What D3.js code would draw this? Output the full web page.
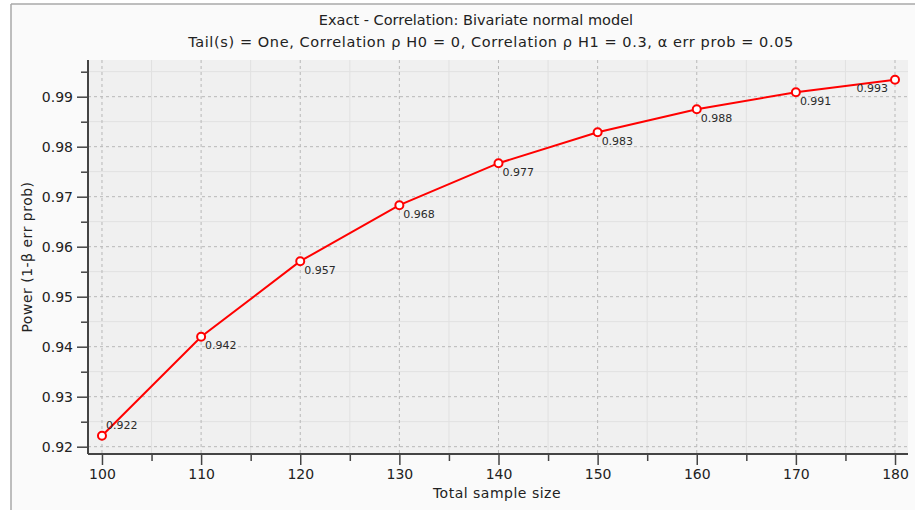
<!DOCTYPE html>
<html>
<head>
<meta charset="utf-8">
<script src="https://cdn.jsdelivr.net/npm/d3@7"></script>
<style>
  html, body { margin: 0; padding: 0; background: #ffffff; }
  svg { display: block; }
  text { font-family: "DejaVu Sans", sans-serif; }
</style>
</head>
<body>
<svg id="chart" width="915" height="510"></svg>
<script>
// ---- data ----
const sampleSizes = [100, 110, 120, 130, 140, 150, 160, 170, 180];
const powerValues = [0.9222, 0.9420, 0.9571, 0.9683, 0.9767, 0.9829, 0.9875, 0.9909, 0.9934];
const pointLabels = ["0.922", "0.942", "0.957", "0.968", "0.977", "0.983", "0.988", "0.991", "0.993"];
const xMajorTicks = [100, 110, 120, 130, 140, 150, 160, 170, 180];
const xMinorTicks = [105, 115, 125, 135, 145, 155, 165, 175];
const yMajorTicks = [0.92, 0.93, 0.94, 0.95, 0.96, 0.97, 0.98, 0.99];
const yMinorTicks = [0.925, 0.935, 0.945, 0.955, 0.965, 0.975, 0.985, 0.995];
const titleText = "Exact - Correlation: Bivariate normal model";
const subtitleText = "Tail(s) = One, Correlation \u03C1 H0 = 0, Correlation \u03C1 H1 = 0.3, \u03B1 err prob = 0.05";
const xTitle = "Total sample size";
const yTitle = "Power (1-\u03B2 err prob)";

// ---- layout ----
const W = 915, H = 510;
const plot = { left: 88, right: 908, top: 60, bottom: 454 };

const svg = d3.select("#chart");

// outer panel
svg.append("rect").attr("x", 0).attr("y", 0).attr("width", W).attr("height", H).attr("fill", "#ffffff");
svg.append("rect").attr("x", 11).attr("y", 4).attr("width", W).attr("height", H)
  .attr("fill", "#fafafa");
svg.append("line").attr("x1", 11).attr("x2", 11).attr("y1", 4).attr("y2", H)
  .attr("stroke", "#a8a8a8").attr("stroke-width", 1.5);
svg.append("line").attr("x1", 11).attr("x2", W).attr("y1", 4).attr("y2", 4)
  .attr("stroke", "#a8a8a8").attr("stroke-width", 1.5);

const x = d3.scaleLinear().domain([98.59, 181.31]).range([plot.left, plot.right]);
const y = d3.scaleLinear().domain([0.91854, 0.99734]).range([plot.bottom, plot.top]);

// plot background
svg.append("rect")
  .attr("x", plot.left).attr("y", plot.top)
  .attr("width", plot.right - plot.left).attr("height", plot.bottom - plot.top)
  .attr("fill", "#f0f0f0");

// minor grid
const grid = svg.append("g");
grid.selectAll(".vmin").data(xMinorTicks).join("line")
  .attr("x1", d => x(d)).attr("x2", d => x(d))
  .attr("y1", plot.top).attr("y2", plot.bottom)
  .attr("stroke", "#e1e1e1").attr("stroke-width", 1);
grid.selectAll(".hmin").data(yMinorTicks).join("line")
  .attr("y1", d => y(d)).attr("y2", d => y(d))
  .attr("x1", plot.left).attr("x2", plot.right)
  .attr("stroke", "#e1e1e1").attr("stroke-width", 1);
// major grid (dashed)
grid.selectAll(".vmaj").data(xMajorTicks).join("line")
  .attr("x1", d => x(d)).attr("x2", d => x(d))
  .attr("y1", plot.top).attr("y2", plot.bottom)
  .attr("stroke", "#b8b8b8").attr("stroke-width", 1).attr("stroke-dasharray", "3,3");
grid.selectAll(".hmaj").data(yMajorTicks).join("line")
  .attr("y1", d => y(d)).attr("y2", d => y(d))
  .attr("x1", plot.left).attr("x2", plot.right)
  .attr("stroke", "#b8b8b8").attr("stroke-width", 1).attr("stroke-dasharray", "3,3");

// axes
const axisColor = "#444";
const xAxisMajor = d3.axisBottom(x).tickValues(xMajorTicks).tickSize(11).tickPadding(4).tickFormat(d3.format("d"));
const xAxisMinor = d3.axisBottom(x).tickValues(xMinorTicks).tickSize(7).tickFormat("");
const yAxisMajor = d3.axisLeft(y).tickValues(yMajorTicks).tickSize(11).tickPadding(4).tickFormat(d3.format(".2f"));
const yAxisMinor = d3.axisLeft(y).tickValues(yMinorTicks).tickSize(7).tickFormat("");

function styleAxis(g) {
  g.select(".domain").remove();
  g.selectAll(".tick line").attr("stroke", axisColor).attr("stroke-width", 1.5);
  g.selectAll(".tick text").attr("fill", "#222").attr("font-size", 14)
    .attr("font-family", "DejaVu Sans, sans-serif");
}
svg.append("g").attr("transform", `translate(0,${plot.bottom})`).call(xAxisMinor).call(styleAxis);
svg.append("g").attr("transform", `translate(0,${plot.bottom})`).call(xAxisMajor).call(styleAxis);
svg.append("g").attr("transform", `translate(${plot.left},0)`).call(yAxisMinor).call(styleAxis);
svg.append("g").attr("transform", `translate(${plot.left},0)`).call(yAxisMajor).call(styleAxis);

svg.append("line").attr("x1", plot.left).attr("x2", plot.right)
  .attr("y1", plot.bottom).attr("y2", plot.bottom)
  .attr("stroke", axisColor).attr("stroke-width", 2);
svg.append("line").attr("x1", plot.left).attr("x2", plot.left)
  .attr("y1", plot.top).attr("y2", plot.bottom)
  .attr("stroke", axisColor).attr("stroke-width", 2);

// data
const data = sampleSizes.map((n, i) => ({ n, p: powerValues[i], label: pointLabels[i], i }));

const line = d3.line().x(d => x(d.n)).y(d => y(d.p));
svg.append("path").datum(data)
  .attr("d", line)
  .attr("fill", "none").attr("stroke", "#ff0000").attr("stroke-width", 2);

svg.selectAll(".pt").data(data).join("circle")
  .attr("cx", d => x(d.n)).attr("cy", d => y(d.p)).attr("r", 4)
  .attr("fill", "#ffffff").attr("stroke", "#ff0000").attr("stroke-width", 2);

const last = data.length - 1;
svg.selectAll(".lbl").data(data).join("text")
  .attr("x", d => x(d.n) + (d.i === last ? -7 : 4))
  .attr("y", d => y(d.p) + (d.i === 0 ? -6.5 : 12.7))
  .attr("text-anchor", d => d.i === last ? "end" : "start")
  .attr("font-size", 11).attr("fill", "#2a2a2a")
  .text(d => d.label);

// titles
svg.append("text").attr("x", 476).attr("y", 25).attr("text-anchor", "middle")
  .attr("font-size", 14.5).attr("fill", "#222").text(titleText);
svg.append("text").attr("x", 491).attr("y", 47).attr("text-anchor", "middle")
  .attr("font-size", 14.5).attr("letter-spacing", 0.6).attr("fill", "#222").text(subtitleText);

svg.append("text").attr("x", 497).attr("y", 498).attr("text-anchor", "middle")
  .attr("font-size", 14).attr("letter-spacing", 0.5).attr("fill", "#222").text(xTitle);
svg.append("text")
  .attr("transform", "translate(32,257) rotate(-90)")
  .attr("text-anchor", "middle")
  .attr("font-size", 14).attr("letter-spacing", 0.5).attr("fill", "#222").text(yTitle);
</script>
</body>
</html>
